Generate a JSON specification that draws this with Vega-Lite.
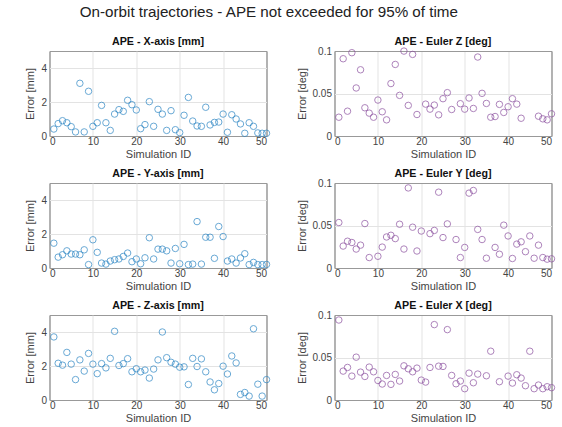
{
"$schema": "https://vega.github.io/schema/vega-lite/v6.json",
"background": "white",
"padding": {"left": 23.5, "top": 5, "right": 5, "bottom": 5},
"title": {"text": "On-orbit trajectories - APE not exceeded for 95% of time", "fontSize": 15.2, "font": "Liberation Sans", "fontWeight": "normal", "color": "#222222", "anchor": "middle", "offset": 15, "dx": -22},
"datasets": {"t": [
{"id":1,"xa":0.41,"ez":0.0221,"ya":1.46,"ey":0.0535,"za":3.71,"ex":0.0941},
{"id":2,"xa":0.73,"ez":0.0909,"ya":0.64,"ey":0.0258,"za":2.16,"ex":0.034},
{"id":3,"xa":0.90,"ez":0.0292,"ya":0.78,"ey":0.0315,"za":2.05,"ex":0.0383},
{"id":4,"xa":0.78,"ez":0.098,"ya":1.01,"ey":0.030,"za":2.80,"ex":0.0281},
{"id":5,"xa":0.55,"ez":0.0565,"ya":0.82,"ey":0.0223,"za":2.11,"ex":0.0504},
{"id":6,"xa":0.24,"ez":0.0779,"ya":0.82,"ey":0.0269,"za":1.20,"ex":0.0328},
{"id":7,"xa":3.10,"ez":0.0332,"ya":0.78,"ey":0.0523,"za":2.36,"ex":0.0277},
{"id":8,"xa":0.24,"ez":0.0269,"ya":1.07,"ey":0.0123,"za":1.70,"ex":0.0387},
{"id":9,"xa":2.63,"ez":0.0221,"ya":0.20,"ey":null,"za":2.74,"ex":0.0332},
{"id":10,"xa":0.57,"ez":0.0423,"ya":1.66,"ey":0.0138,"za":2.11,"ex":0.023},
{"id":11,"xa":0.78,"ez":0.0285,"ya":0.92,"ey":0.0246,"za":1.55,"ex":0.0188},
{"id":12,"xa":1.80,"ez":0.019,"ya":0.29,"ey":0.0365,"za":2.14,"ex":0.0289},
{"id":13,"xa":0.78,"ez":0.0617,"ya":0.23,"ey":0.0385,"za":1.89,"ex":0.0184},
{"id":14,"xa":0.33,"ez":0.0842,"ya":0.41,"ey":0.0346,"za":2.45,"ex":0.0301},
{"id":15,"xa":1.29,"ez":0.0478,"ya":0.49,"ey":0.0515,"za":4.04,"ex":0.0223},
{"id":16,"xa":1.55,"ez":0.0999,"ya":0.53,"ey":0.0223,"za":2.03,"ex":0.0402},
{"id":17,"xa":1.45,"ez":0.036,"ya":0.68,"ey":0.0942,"za":2.14,"ex":0.0367},
{"id":18,"xa":2.10,"ez":0.096,"ya":0.88,"ey":0.048,"za":2.43,"ex":0.0332},
{"id":19,"xa":1.84,"ez":0.0253,"ya":0.37,"ey":0.020,"za":1.66,"ex":0.0375},
{"id":20,"xa":1.53,"ez":null,"ya":0.53,"ey":0.0435,"za":1.84,"ex":0.0234},
{"id":21,"xa":0.43,"ez":0.0375,"ya":0.25,"ey":null,"za":1.66,"ex":0.0211},
{"id":22,"xa":0.67,"ez":0.0316,"ya":0.60,"ey":0.0404,"za":1.76,"ex":0.0383},
{"id":23,"xa":2.02,"ez":0.0364,"ya":1.78,"ey":0.0442,"za":1.29,"ex":0.0887},
{"id":24,"xa":0.57,"ez":0.0249,"ya":0.53,"ey":0.0892,"za":1.82,"ex":0.0398},
{"id":25,"xa":1.57,"ez":0.0439,"ya":1.11,"ey":0.0358,"za":2.36,"ex":0.0395},
{"id":26,"xa":1.29,"ez":0.051,"ya":1.11,"ey":0.0519,"za":4.00,"ex":0.0828},
{"id":27,"xa":0.33,"ez":0.0312,"ya":1.01,"ey":null,"za":2.49,"ex":0.0289},
{"id":28,"xa":1.49,"ez":null,"ya":0.29,"ey":0.0335,"za":2.22,"ex":0.0191},
{"id":29,"xa":0.37,"ez":0.038,"ya":1.15,"ey":0.0123,"za":2.11,"ex":0.0223},
{"id":30,"xa":0.20,"ez":0.0316,"ya":0.25,"ey":0.0242,"za":1.93,"ex":0.0133},
{"id":31,"xa":1.22,"ez":0.0447,"ya":1.39,"ey":0.0881,"za":1.95,"ex":0.0316},
{"id":32,"xa":2.27,"ez":0.0324,"ya":0.20,"ey":0.0912,"za":0.91,"ex":0.0203},
{"id":33,"xa":0.88,"ez":0.0929,"ya":0.23,"ey":0.0454,"za":2.45,"ex":0.0305},
{"id":34,"xa":0.59,"ez":0.0502,"ya":2.73,"ey":0.0335,"za":1.97,"ex":null},
{"id":35,"xa":0.57,"ez":0.0383,"ya":0.23,"ey":0.0115,"za":2.42,"ex":0.0285},
{"id":36,"xa":1.69,"ez":0.0221,"ya":1.81,"ey":null,"za":1.66,"ex":0.0574},
{"id":37,"xa":0.65,"ez":0.0229,"ya":1.81,"ey":0.0242,"za":1.06,"ex":null},
{"id":38,"xa":0.80,"ez":0.0372,"ya":0.57,"ey":0.0162,"za":0.60,"ex":0.0215},
{"id":39,"xa":0.82,"ez":0.0277,"ya":2.44,"ey":0.0504,"za":0.97,"ex":null},
{"id":40,"xa":1.29,"ez":0.0344,"ya":1.85,"ey":0.0377,"za":1.99,"ex":0.0281},
{"id":41,"xa":0.22,"ez":0.0439,"ya":0.41,"ey":0.0112,"za":1.53,"ex":0.0199},
{"id":42,"xa":1.25,"ez":0.0375,"ya":0.53,"ey":0.0281,"za":2.59,"ex":0.0297},
{"id":43,"xa":1.00,"ez":0.0209,"ya":0.29,"ey":0.0308,"za":2.18,"ex":0.0258},
{"id":44,"xa":0.71,"ez":null,"ya":0.59,"ey":0.0192,"za":0.33,"ex":0.0168},
{"id":45,"xa":0.16,"ez":null,"ya":0.84,"ey":0.0377,"za":0.44,"ex":0.0574},
{"id":46,"xa":0.78,"ez":null,"ya":0.20,"ey":0.0115,"za":0.23,"ex":0.0133},
{"id":47,"xa":0.57,"ez":0.0233,"ya":0.33,"ey":0.0269,"za":4.19,"ex":0.0176},
{"id":48,"xa":0.18,"ez":0.0202,"ya":0.20,"ey":0.0123,"za":0.93,"ex":0.0133},
{"id":49,"xa":0.16,"ez":0.019,"ya":0.20,"ey":0.0104,"za":0.23,"ex":0.0156},
{"id":50,"xa":0.16,"ez":0.0261,"ya":0.21,"ey":0.0108,"za":1.20,"ex":0.0145}
]},
"data": {"name": "t"},
"columns": 2,
"spacing": {"row": 47, "column": 68},
"bounds": "flush",
"concat": [
{"width": 217, "height": 85, "title": {"text": "APE - X-axis [mm]", "offset": 3},
 "mark": {"type": "point", "shape": "circle", "filled": false, "size": 42, "strokeWidth": 1, "color": "#2a85c4"},
 "encoding": {
  "x": {"field": "id", "type": "quantitative", "scale": {"domain": [0, 50]}, "axis": {"values": [0,10,20,30,40,50], "title": "Simulation ID", "gridColor": {"condition": {"test": "datum.value === 0 || datum.value === 50", "value": "#999999"}, "value": "#e3e3e3"}}},
  "y": {"field": "xa", "type": "quantitative", "scale": {"domain": [0, 5]}, "axis": {"values": [0,2,4], "title": "Error [mm]", "gridColor": {"condition": {"test": "datum.value === 0", "value": "#999999"}, "value": "#e3e3e3"}}}}},
{"width": 217, "height": 85, "title": {"text": "APE - Euler Z [deg]", "offset": -2},
 "mark": {"type": "point", "shape": "circle", "filled": false, "size": 42, "strokeWidth": 1, "color": "#8b4f9f"},
 "encoding": {
  "x": {"field": "id", "type": "quantitative", "scale": {"domain": [0, 50]}, "axis": {"values": [0,10,20,30,40,50], "title": "Simulation ID", "gridColor": {"condition": {"test": "datum.value === 0 || datum.value === 50", "value": "#999999"}, "value": "#e3e3e3"}}},
  "y": {"field": "ez", "type": "quantitative", "scale": {"domain": [0, 0.1]}, "axis": {"values": [0,0.05,0.1], "format": "~g", "title": "Error [deg]", "gridColor": {"condition": {"test": "datum.value === 0 || datum.value === 0.1", "value": "#999999"}, "value": "#e3e3e3"}}}}},
{"width": 217, "height": 85, "title": {"text": "APE - Y-axis [mm]", "offset": 3},
 "mark": {"type": "point", "shape": "circle", "filled": false, "size": 42, "strokeWidth": 1, "color": "#2a85c4"},
 "encoding": {
  "x": {"field": "id", "type": "quantitative", "scale": {"domain": [0, 50]}, "axis": {"values": [0,10,20,30,40,50], "title": "Simulation ID", "gridColor": {"condition": {"test": "datum.value === 0 || datum.value === 50", "value": "#999999"}, "value": "#e3e3e3"}}},
  "y": {"field": "ya", "type": "quantitative", "scale": {"domain": [0, 5]}, "axis": {"values": [0,2,4], "title": "Error [mm]", "gridColor": {"condition": {"test": "datum.value === 0", "value": "#999999"}, "value": "#e3e3e3"}}}}},
{"width": 217, "height": 85, "title": {"text": "APE - Euler Y [deg]", "offset": -2},
 "mark": {"type": "point", "shape": "circle", "filled": false, "size": 42, "strokeWidth": 1, "color": "#8b4f9f"},
 "encoding": {
  "x": {"field": "id", "type": "quantitative", "scale": {"domain": [0, 50]}, "axis": {"values": [0,10,20,30,40,50], "title": "Simulation ID", "gridColor": {"condition": {"test": "datum.value === 0 || datum.value === 50", "value": "#999999"}, "value": "#e3e3e3"}}},
  "y": {"field": "ey", "type": "quantitative", "scale": {"domain": [0, 0.1]}, "axis": {"values": [0,0.05,0.1], "format": "~g", "title": "Error [deg]", "gridColor": {"condition": {"test": "datum.value === 0 || datum.value === 0.1", "value": "#999999"}, "value": "#e3e3e3"}}}}},
{"width": 217, "height": 85, "title": {"text": "APE - Z-axis [mm]", "offset": 3},
 "mark": {"type": "point", "shape": "circle", "filled": false, "size": 42, "strokeWidth": 1, "color": "#2a85c4"},
 "encoding": {
  "x": {"field": "id", "type": "quantitative", "scale": {"domain": [0, 50]}, "axis": {"values": [0,10,20,30,40,50], "title": "Simulation ID", "gridColor": {"condition": {"test": "datum.value === 0 || datum.value === 50", "value": "#999999"}, "value": "#e3e3e3"}}},
  "y": {"field": "za", "type": "quantitative", "scale": {"domain": [0, 5]}, "axis": {"values": [0,2,4], "title": "Error [mm]", "gridColor": {"condition": {"test": "datum.value === 0", "value": "#999999"}, "value": "#e3e3e3"}}}}},
{"width": 217, "height": 85, "title": {"text": "APE - Euler X [deg]", "offset": -2},
 "mark": {"type": "point", "shape": "circle", "filled": false, "size": 42, "strokeWidth": 1, "color": "#8b4f9f"},
 "encoding": {
  "x": {"field": "id", "type": "quantitative", "scale": {"domain": [0, 50]}, "axis": {"values": [0,10,20,30,40,50], "title": "Simulation ID", "gridColor": {"condition": {"test": "datum.value === 0 || datum.value === 50", "value": "#999999"}, "value": "#e3e3e3"}}},
  "y": {"field": "ex", "type": "quantitative", "scale": {"domain": [0, 0.1]}, "axis": {"values": [0,0.05,0.1], "format": "~g", "title": "Error [deg]", "gridColor": {"condition": {"test": "datum.value === 0 || datum.value === 0.1", "value": "#999999"}, "value": "#e3e3e3"}}}}}
],
"config": {
 "view": {"stroke": "#999999", "strokeWidth": 1},
 "axis": {"domain": false, "ticks": false, "grid": true, "labelFont": "Liberation Sans", "labelFontSize": 10, "labelColor": "#444444", "titleFont": "Liberation Sans", "titleFontSize": 11, "titleFontWeight": "normal", "titleColor": "#444444", "labelPadding": 3},
 "axisX": {"titlePadding": 2, "labelPadding": 0},
 "axisY": {"titlePadding": 5},
 "title": {"fontSize": 10.7, "font": "Liberation Sans", "fontWeight": "bold", "color": "#111111"}
}
}
